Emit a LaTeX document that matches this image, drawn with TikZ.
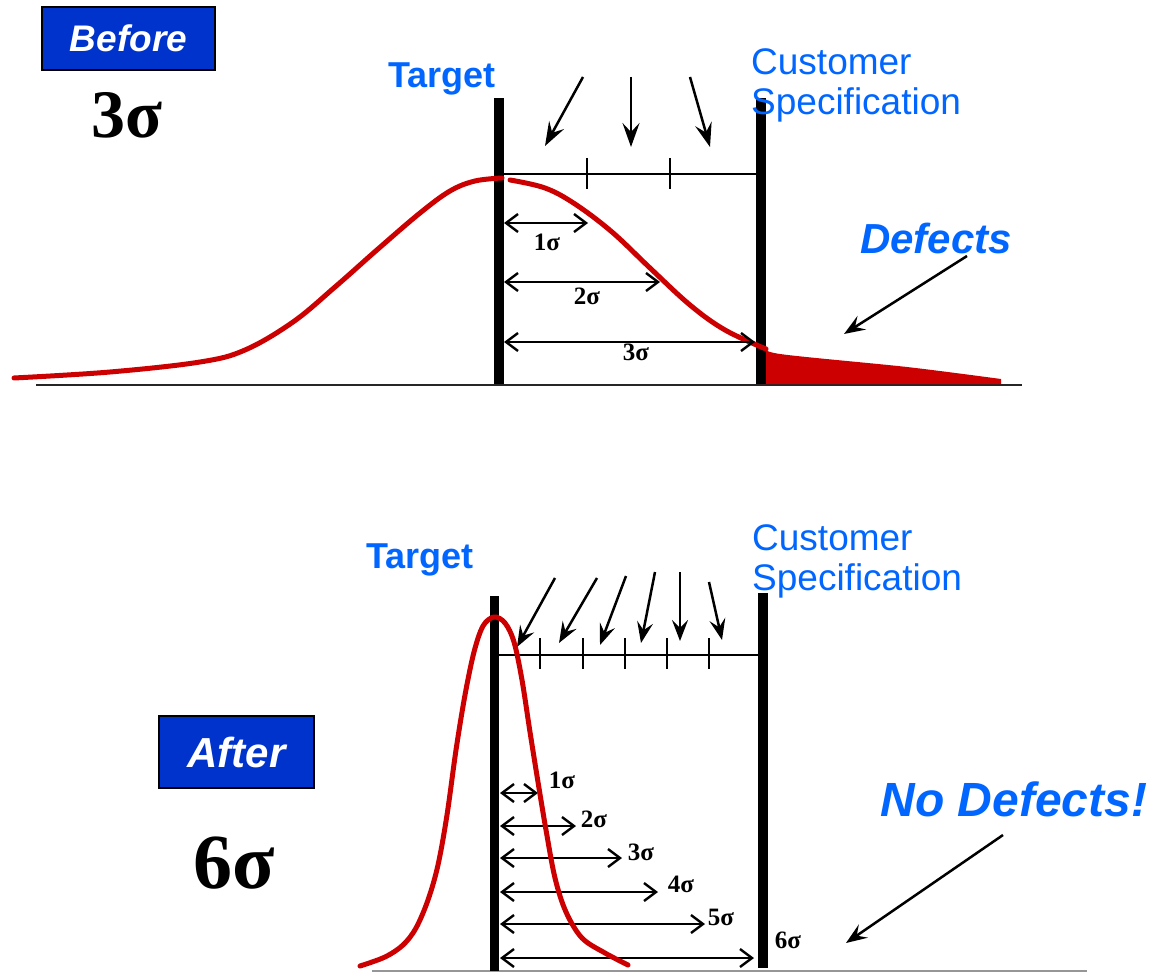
\documentclass[tikz,border=0pt]{standalone}
\usepackage{fontspec}
\setmainfont{Liberation Serif}
\setsansfont{Liberation Sans}
\usetikzlibrary{arrows.meta}
\definecolor{specblue}{RGB}{0,102,255}
\definecolor{boxblue}{RGB}{0,51,204}
\definecolor{curvered}{RGB}{204,0,0}
\definecolor{axisgray}{RGB}{150,150,150}

\begin{document}
\begin{tikzpicture}[x=1pt,y=-1pt,
  limitbar/.style={fill=black},
  axisline/.style={line width=2pt},
  scaleline/.style={line width=2.2pt},
  pointer/.style={line width=2.5pt,-{Stealth[length=24pt,width=17pt,inset=9pt]}},
  smallpointer/.style={line width=2.5pt,-{Stealth[length=21pt,width=16pt,inset=8pt]}},
  dimarrow/.style={line width=2.4pt,{Straight Barb[length=12pt,width=18pt]}-{Straight Barb[length=12pt,width=18pt]}},
  bellcurve/.style={draw=curvered,line width=5pt,line cap=round,line join=round},
  headlabel/.style={font=\sffamily\bfseries\fontsize{36}{40}\selectfont,text=specblue,inner sep=0,anchor=base},
  speclabel/.style={font=\sffamily\fontsize{37}{40}\selectfont,text=specblue,inner sep=0,anchor=base west},
  defectlabel/.style={font=\sffamily\bfseries\itshape,text=specblue,inner sep=0,anchor=base},
  tagbox/.style={draw=black,line width=2pt,fill=boxblue,text=white,font=\sffamily\bfseries\itshape,inner sep=0},
  sigmabig/.style={font=\bfseries,inner sep=0,anchor=base},
  sigmalabel/.style={font=\bfseries\fontsize{25}{28}\selectfont,inner sep=0,anchor=base}
]
\useasboundingbox (0,0) rectangle (1150,973);

% ================= upper panel: 3 sigma process =================
\draw[axisline,black!85] (36,385) -- (1022,385);

% out-of-spec area beyond the upper limit
\fill[curvered] plot[smooth,tension=0.5] coordinates {(762,346) (780,354) (907,367) (1001,379)}
  -- (1001,384) -- (762,384) -- cycle;

% target and specification limits
\fill[limitbar] (494,98) rectangle (504,384);
\fill[limitbar] (756,98) rectangle (766,384);

% wide distribution
\draw[bellcurve] plot[smooth,tension=0.6] coordinates {(14,378) (110,372) (200,362) (245,350) (293,322) (335,287) (378,249) (420,213) (450,191) (475,181) (502,178)};
\draw[bellcurve] plot[smooth,tension=0.6] coordinates {(510,180) (545,188) (575,204) (612,232) (650,268) (690,305) (725,330) (766,349)};

% sigma scale between target and limit
\coordinate (tA) at (504,174);
\coordinate (tB) at (756,174);
\draw[scaleline] (tA) -- (tB);
\coordinate (tk1a) at (587,158); \coordinate (tk1b) at (587,189);
\coordinate (tk2a) at (670,158); \coordinate (tk2b) at (670,189);
\draw[scaleline] (tk1a) -- (tk1b);
\draw[scaleline] (tk2a) -- (tk2b);

% falling marks onto the scale
\coordinate (tp1s) at (583,77);  \coordinate (tp1e) at (545,146);
\coordinate (tp2s) at (631,77);  \coordinate (tp2e) at (631,147);
\coordinate (tp3s) at (690,77);  \coordinate (tp3e) at (710,147);
\draw[pointer] (tp1s) -- (tp1e);
\draw[pointer] (tp2s) -- (tp2e);
\draw[pointer] (tp3s) -- (tp3e);

% distances from target
\coordinate (td1a) at (504,223); \coordinate (td1b) at (588,223);
\coordinate (td2a) at (504,282); \coordinate (td2b) at (660,282);
\coordinate (td3a) at (504,342); \coordinate (td3b) at (755,342);
\draw[dimarrow] (td1a) -- (td1b);
\draw[dimarrow] (td2a) -- (td2b);
\draw[dimarrow] (td3a) -- (td3b);
\node[sigmalabel] (tl1) at (547,251) {1σ};
\node[sigmalabel] (tl2) at (587,305) {2σ};
\node[sigmalabel] (tl3) at (636,360) {3σ};

% labels
\node[tagbox,minimum width=173pt,minimum height=63pt,font=\sffamily\bfseries\itshape\fontsize{37}{40}\selectfont] (before) at (128.5,38.5) {Before\hspace{16pt}};
\node[sigmabig,font=\bfseries\fontsize{68}{70}\selectfont] (threesigma) at (127,138) {3σ};
\node[headlabel] (targettop) at (442,88) {Target};
\node[speclabel] (custtop) at (751,75) {Customer};
\node[speclabel] (spectop) at (751,115) {Specification};
\node[defectlabel,font=\sffamily\bfseries\itshape\fontsize{42}{44}\selectfont] (defects) at (936,254) {Defects};
\coordinate (dfs) at (967,256);
\coordinate (dfe) at (844,334);
\draw[smallpointer] (dfs) -- (dfe);

% ================= lower panel: 6 sigma process =================
\draw[axisline,axisgray] (372,971) -- (1087,971);

\fill[limitbar] (490,596) rectangle (499,971);
\fill[limitbar] (758,593) rectangle (768,968);

% sigma scale
\coordinate (bA) at (499,655);
\coordinate (bB) at (758,655);
\draw[scaleline] (bA) -- (bB);
\foreach \tx [count=\i] in {540,583,625,667,709}{
  \coordinate (bk\i a) at (\tx,638);
  \coordinate (bk\i b) at (\tx,669);
  \draw[scaleline] (bk\i a) -- (bk\i b);
}

% falling marks onto the scale
\coordinate (bp1s) at (555,578); \coordinate (bp1e) at (517,647);
\coordinate (bp2s) at (597,578); \coordinate (bp2e) at (559,643);
\coordinate (bp3s) at (626,576); \coordinate (bp3e) at (600,645);
\coordinate (bp4s) at (655,572); \coordinate (bp4e) at (641,643);
\coordinate (bp5s) at (680,572); \coordinate (bp5e) at (680,641);
\coordinate (bp6s) at (709,582); \coordinate (bp6e) at (722,640);
\foreach \i in {1,...,6}{
  \draw[smallpointer] (bp\i s) -- (bp\i e);
}

% distances from target
\coordinate (bd1a) at (500,793); \coordinate (bd1b) at (538,793);
\coordinate (bd2a) at (500,826); \coordinate (bd2b) at (576,826);
\coordinate (bd3a) at (500,858); \coordinate (bd3b) at (622,858);
\coordinate (bd4a) at (500,892); \coordinate (bd4b) at (658,892);
\coordinate (bd5a) at (500,924); \coordinate (bd5b) at (705,924);
\coordinate (bd6a) at (500,958); \coordinate (bd6b) at (754,958);
\foreach \i in {1,...,6}{
  \draw[dimarrow] (bd\i a) -- (bd\i b);
}

% narrow distribution
\draw[bellcurve] plot[smooth,tension=0.55] coordinates {(360,966) (385,957) (403,945) (416,928) (428,900) (438,865) (447,815) (456,750) (465,695) (474,652) (483,626) (494,617) (505,623) (514,642) (522,680) (530,732) (538,782) (546,830) (555,878) (566,912) (582,938) (605,953) (628,965)};

\node[sigmalabel] (bl1) at (562,788) {1σ};
\node[sigmalabel] (bl2) at (594,827) {2σ};
\node[sigmalabel] (bl3) at (641,860) {3σ};
\node[sigmalabel] (bl4) at (681,892) {4σ};
\node[sigmalabel] (bl5) at (721,925) {5σ};
\node[sigmalabel] (bl6) at (788,948) {6σ};

% labels
\node[tagbox,minimum width=155pt,minimum height=72pt,font=\sffamily\bfseries\itshape\fontsize{42}{44}\selectfont] (after) at (236.5,752) {After\hspace{10pt}};
\node[sigmabig,font=\bfseries\fontsize{78}{80}\selectfont] (sixsigma) at (234,888) {6σ};
\node[headlabel] (targetbot) at (420,568) {Target};
\node[speclabel] (custbot) at (752,550) {Customer};
\node[speclabel] (specbot) at (752,590) {Specification};
\node[defectlabel,font=\sffamily\bfseries\itshape\fontsize{48}{50}\selectfont] (nodefects) at (1014,816) {No Defects!};
\coordinate (nds) at (1003,835);
\coordinate (nde) at (846,943);
\draw[smallpointer] (nds) -- (nde);
\end{tikzpicture}
\end{document}
